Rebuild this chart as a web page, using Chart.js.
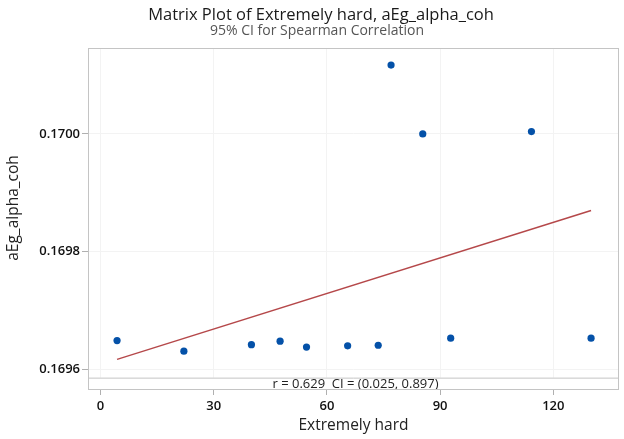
<!DOCTYPE html>
<html>
<head>
<meta charset="utf-8">
<script src="https://cdn.jsdelivr.net/npm/chart.js@4/dist/chart.umd.min.js"></script>
<style>
  html, body { margin: 0; padding: 0; background: #fff; }
  #wrap { width: 624px; height: 439px; }
</style>
</head>
<body>
<div id="wrap"><canvas id="chart"></canvas></div>
<script>
// values
const xValues = [4.4, 22.1, 40.0, 47.6, 54.6, 65.5, 73.6, 77.0, 85.4, 92.8, 114.2, 130.0];
const yValues = [0.169649, 0.169631, 0.169642, 0.169648, 0.169638, 0.169640, 0.169641, 0.170117, 0.170000, 0.169653, 0.170004, 0.169653];
const fitX = [4.4, 130.0];
const fitY = [0.169617, 0.169870];
const xTicks = [0, 30, 60, 90, 120];
const yTicks = [0.1696, 0.1698, 0.1700];
const titleText = "Matrix Plot of Extremely hard, aEg_alpha_coh";
const subtitleText = "95% CI for Spearman Correlation";
const yTitleText = "aEg_alpha_coh";
const corrText = "r = 0.629  CI = (0.025, 0.897)";

const FONT = "'Open Sans', 'Noto Sans', sans-serif";
const bandTop = 0.169586; // where the r / CI strip starts

// frame around the plot + the correlation strip at the bottom
const framePlugin = {
  id: "frame",
  beforeDatasetsDraw(chart) {
    const { ctx, chartArea: a } = chart;
    const yb = chart.scales.y.getPixelForValue(bandTop);
    ctx.save();
    ctx.fillStyle = "#fff";
    ctx.fillRect(a.left + 1, yb, a.right - a.left - 2, a.bottom - yb);
    ctx.strokeStyle = "#c4c4c4";
    ctx.lineWidth = 1;
    ctx.beginPath();
    ctx.moveTo(a.left, yb + 0.5);
    ctx.lineTo(a.right, yb + 0.5);
    ctx.stroke();
    ctx.fillStyle = "#222";
    ctx.font = "13px " + FONT;
    ctx.textAlign = "center";
    ctx.textBaseline = "middle";
    ctx.fillText(corrText, (a.left + a.right) / 2 + 2, (yb + a.bottom) / 2 + 0.5);
    ctx.strokeRect(a.left + 0.5, a.top + 0.5, a.right - a.left - 1, a.bottom - a.top - 1);
    ctx.restore();
  },
  afterDraw(chart) {
    const { ctx } = chart;
    ctx.save();
    ctx.textAlign = "center";
    ctx.textBaseline = "alphabetic";
    ctx.fillStyle = "#1a1a1a";
    ctx.font = "16.5px " + FONT;
    ctx.fillText(titleText, 321, 19.5);
    ctx.fillStyle = "#555";
    ctx.font = "14px " + FONT;
    ctx.fillText(subtitleText, 317, 34.5);
    // y axis title
    ctx.translate(14, 208);
    ctx.rotate(-Math.PI / 2);
    ctx.textBaseline = "middle";
    ctx.fillStyle = "#222";
    ctx.font = "15.5px " + FONT;
    ctx.fillText(yTitleText, 0, 0);
    ctx.restore();
  }
};

const points = xValues.map((x, i) => ({ x: x, y: yValues[i] }));
const fitLine = fitX.map((x, i) => ({ x: x, y: fitY[i] }));

new Chart(document.getElementById("chart"), {
  type: "scatter",
  data: {
    datasets: [
      {
        data: points,
        backgroundColor: "#0451a8",
        borderColor: "#0451a8",
        pointRadius: 3.6,
        borderWidth: 0
      },
      {
        type: "line",
        data: fitLine,
        borderColor: "#b5484a",
        borderWidth: 1.5,
        pointRadius: 0,
        fill: false,
        tension: 0
      }
    ]
  },
  options: {
    responsive: true,
    maintainAspectRatio: false,
    animation: false,
    layout: { padding: { left: 0, right: 5, top: 48, bottom: 0 } },
    plugins: {
      legend: { display: false },
      tooltip: { enabled: false }
    },
    scales: {
      x: {
        type: "linear",
        min: -3.3,
        max: 137.4,
        afterBuildTicks: s => { s.ticks = xTicks.map(v => ({ value: v })); },
        afterFit: s => { s.height = 49; },
        grid: { color: "#f3f3f3", tickColor: "#b0b0b0", tickLength: 5, drawOnChartArea: true },
        border: { display: false },
        ticks: { color: "#111", font: { family: FONT, size: 13, weight: 600 }, padding: 3, maxRotation: 0 },
        title: {
          display: true,
          text: "Extremely hard",
          color: "#222",
          font: { family: FONT, size: 15.5 },
          padding: { top: 0, bottom: 4 }
        }
      },
      y: {
        type: "linear",
        min: 0.169565,
        max: 0.170146,
        afterBuildTicks: s => { s.ticks = yTicks.map(v => ({ value: v })); },
        afterFit: s => { s.width = 88; },
        grid: { color: "#f3f3f3", tickColor: "#b0b0b0", tickLength: 6 },
        border: { display: false },
        ticks: {
          color: "#111",
          font: { family: FONT, size: 13, weight: 600 },
          padding: 2,
          callback: v => v.toFixed(4)
        },
        title: { display: false }
      }
    }
  },
  plugins: [framePlugin]
});
</script>
</body>
</html>
